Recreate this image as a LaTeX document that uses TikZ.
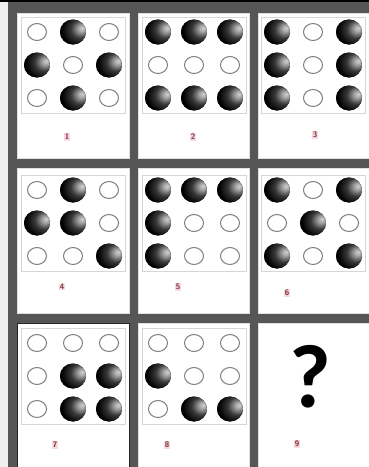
\documentclass[tikz,border=0pt]{standalone}
\usepackage{fontspec}
\newfontfamily\qfont{Carlito}
\definecolor{frame}{HTML}{565656}
\definecolor{strip}{HTML}{EFEFEF}
\definecolor{boxline}{HTML}{D6D6D6}
\definecolor{ringc}{HTML}{7E7E7E}
\definecolor{labc}{HTML}{7A2E36}
\definecolor{labbg}{HTML}{F6D9DF}
\pgfdeclareradialshading{sphereshade}{\pgfpoint{18bp}{8bp}}{%
  color(0bp)=(white!82!black); color(6bp)=(white!66!black);
  color(18bp)=(black!78); color(32bp)=(black); color(72bp)=(black)}
\tikzset{
  panel/.style={fill=white, draw=white!88!black, line width=0.4pt},
  dotbox/.style={draw=boxline, line width=0.6pt, fill=white},
  ball/.style={shading=sphereshade},
  ring/.style={draw=ringc, line width=1pt, fill=white},
  lab/.style={fill=labbg, text=labc, inner sep=0.7pt, font=\sffamily\bfseries\fontsize{8}{8}\selectfont},
}
% #1 x, #2 y of box top-left, #3 pattern list
\newcommand{\dotpanel}[3]{%
  \draw[dotbox] (#1,#2) rectangle ++(104,96);
  \foreach \t [count=\i from 0] in {#3}{%
    \pgfmathtruncatemacro{\cc}{mod(\i,3)}%
    \pgfmathtruncatemacro{\rr}{int(\i/3)}%
    \pgfmathsetmacro{\px}{#1+16+36*\cc}%
    \pgfmathsetmacro{\py}{#2+15+33*\rr}%
    \ifnum\t=1
      \fill[ball] (\px,\py) ellipse [x radius=13, y radius=12.5];
    \else
      \draw[ring] (\px,\py) ellipse [x radius=9.5, y radius=8.5];
    \fi
  }%
}
\begin{document}
\begin{tikzpicture}[x=1pt,y=-1pt]
\useasboundingbox (0,0) rectangle (368,467);
\fill[frame] (8,2) rectangle (370,470);
\fill[strip] (-2,2) rectangle (8,470);
\fill[black] (-2,-2) rectangle (370,2);
% panels
\foreach \xa/\xb in {17/129,138/249,258/372}{
  \foreach \ya/\yb in {13/158,168/313,323/472}{
    \draw[panel] (\xa,\ya) rectangle (\xb,\yb);
  }
}
\draw[black!85, line width=0.8pt] (17,323) rectangle (129,472);
% dot grids
\dotpanel{21}{17}{0,1,0,1,0,1,0,1,0}
\dotpanel{142}{17}{1,1,1,0,0,0,1,1,1}
\dotpanel{261}{17}{1,0,1,1,0,1,1,0,1}
\dotpanel{21}{175}{0,1,0,1,1,0,0,0,1}
\dotpanel{142}{175}{1,1,1,1,0,0,1,0,0}
\dotpanel{261}{175}{1,0,1,0,1,0,1,0,1}
\dotpanel{21}{328}{0,0,0,0,1,1,0,1,1}
\dotpanel{142}{328}{0,0,0,1,0,0,0,1,1}
% labels
\node[lab] (l1) at (67,137) {1};
\node[lab] (l2) at (193,137) {2};
\node[lab] (l3) at (315,135) {3};
\node[lab] (l4) at (62,287) {4};
\node[lab] (l5) at (178,287) {5};
\node[lab] (l6) at (287,293) {6};
\node[lab] (l7) at (55,445) {7};
\node[lab] (l8) at (167,445) {8};
\node[lab] (l9) at (297,444) {9};
\node[inner sep=0pt, font=\qfont\bfseries\fontsize{90}{90}\selectfont] (q) at (310,377) {?};
\end{tikzpicture}
\end{document}
